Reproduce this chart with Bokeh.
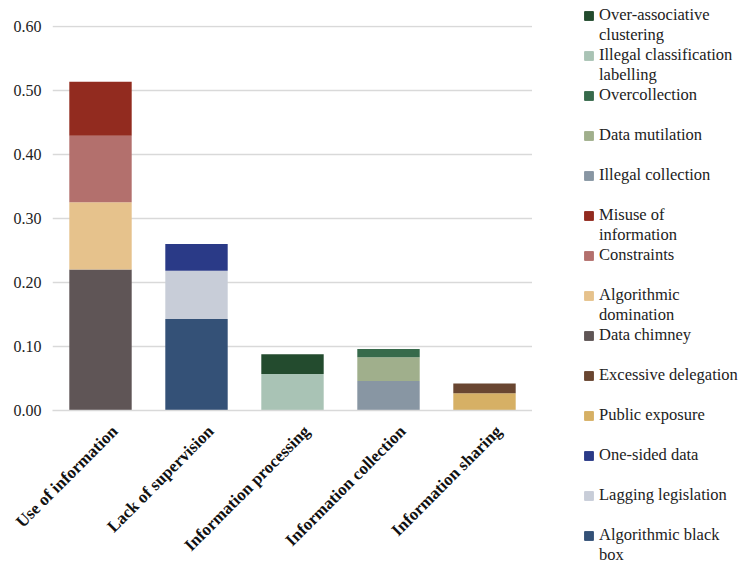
from bokeh.plotting import figure
from bokeh.layouts import row
from bokeh.models import (Range1d, Legend, LegendItem, NumeralTickFormatter,
                          FixedTicker, ColumnDataSource, LinearAxis)
from bokeh.embed import file_html
from bokeh.resources import INLINE
import math

categories = ["Use of information", "Lack of supervision", "Information processing",
              "Information collection", "Information sharing"]

# segments per category, bottom to top
use_of_information = {"Data chimney": 0.220, "Algorithmic domination": 0.105,
                      "Constraints": 0.104, "Misuse of information": 0.084}
lack_of_supervision = {"Algorithmic black box": 0.143, "Lagging legislation": 0.075,
                       "One-sided data": 0.042}
information_processing = {"Illegal classification labelling": 0.057,
                          "Over-associative clustering": 0.031}
information_collection = {"Illegal collection": 0.046, "Data mutilation": 0.037,
                          "Overcollection": 0.013}
information_sharing = {"Public exposure": 0.027, "Excessive delegation": 0.015}

y_ticks = [0, 0.1, 0.2, 0.3, 0.4, 0.5, 0.6]

legend_order = ["Over-associative clustering", "Illegal classification labelling", "Overcollection",
                "Data mutilation", "Illegal collection", "Misuse of information", "Constraints",
                "Algorithmic domination", "Data chimney", "Excessive delegation", "Public exposure",
                "One-sided data", "Lagging legislation", "Algorithmic black box"]

# legend label lines (wrapped as in the reference)
legend_lines = {"Over-associative clustering": ["Over-associative", "clustering"],
                "Illegal classification labelling": ["Illegal classification", "labelling"],
                "Misuse of information": ["Misuse of", "information"],
                "Algorithmic domination": ["Algorithmic", "domination"],
                "Algorithmic black box": ["Algorithmic black", "box"]}

colors = {"Over-associative clustering": "#234B2E", "Illegal classification labelling": "#A9C3B5",
          "Overcollection": "#376A4B", "Data mutilation": "#A0AF8C", "Illegal collection": "#8896A3",
          "Misuse of information": "#922B1F", "Constraints": "#B3706D",
          "Algorithmic domination": "#E6C28C", "Data chimney": "#5F5556",
          "Excessive delegation": "#694631", "Public exposure": "#D6B065",
          "One-sided data": "#2A3A87", "Lagging legislation": "#C8CDD8",
          "Algorithmic black box": "#345177"}

groups = [use_of_information, lack_of_supervision, information_processing,
          information_collection, information_sharing]

stack_order = []
for g in groups:
    stack_order += list(g.keys())

idx = list(range(len(categories)))
data = {"pos": idx, "cat": categories}
for name in stack_order:
    data[name] = [g.get(name, 0.0) for g in groups]
source = ColumnDataSource(data)

# ---------------- main chart ----------------
p = figure(x_range=Range1d(-0.5, len(categories) - 0.5), y_range=(0, 0.601),
           width=532, height=565, output_backend="svg", toolbar_location=None,
           x_axis_location=None,
           min_border_left=52, min_border_top=25, min_border_bottom=155, min_border_right=0)

renderers = p.vbar_stack(stack_order, x="pos", width=0.65, source=source,
                         color=[colors[n] for n in stack_order], line_color=None)

# category label axis (slightly shifted, as in the reference)
label_shift = -0.15
p.extra_x_ranges = {"labels": Range1d(-0.5 + label_shift, len(categories) - 0.5 + label_shift)}
xaxis = LinearAxis(x_range_name="labels",
                   ticker=FixedTicker(ticks=idx),
                   major_label_overrides={i: c for i, c in zip(idx, categories)})
xaxis.axis_line_color = "#D9D9D9"
xaxis.axis_line_width = 1.5
xaxis.major_tick_line_color = None
xaxis.minor_tick_line_color = None
xaxis.major_label_orientation = math.pi / 4
xaxis.major_label_standoff = 12
xaxis.major_label_text_font = "Liberation Serif"
xaxis.major_label_text_font_style = "bold"
xaxis.major_label_text_font_size = "17px"
xaxis.major_label_text_color = "#111111"
p.add_layout(xaxis, "below")

p.outline_line_color = None
p.xgrid.grid_line_color = None
p.ygrid.grid_line_color = "#D9D9D9"
p.ygrid.grid_line_width = 1.5

p.yaxis.ticker = FixedTicker(ticks=y_ticks)
p.yaxis.formatter = NumeralTickFormatter(format="0.00")
p.yaxis.axis_line_color = None
p.yaxis.major_tick_line_color = None
p.yaxis.minor_tick_line_color = None
p.yaxis.major_label_text_font = "Liberation Serif"
p.yaxis.major_label_text_font_size = "16px"
p.yaxis.major_label_text_color = "#222222"

# ---------------- legend panel ----------------
p2 = figure(width=208, height=565, output_backend="svg", toolbar_location=None,
            x_range=Range1d(0, 1), y_range=Range1d(0, 1),
            x_axis_location=None, y_axis_location=None, min_border=0)
p2.outline_line_color = None
p2.grid.visible = False

blank = p2.vbar(x=[-5], top=[0], width=0.5, fill_alpha=0, line_alpha=0)
items = []
for n in legend_order:
    swatch = p2.vbar(x=[-5], top=[0], width=0.5, color=colors[n])
    lines = legend_lines.get(n, [n, " "])
    items.append(LegendItem(label=lines[0], renderers=[swatch]))
    items.append(LegendItem(label=lines[1], renderers=[blank]))

legend = Legend(items=items, location=(51, -155))
legend.label_text_font = "Liberation Serif"
legend.label_text_font_size = "16.5px"
legend.label_text_color = "#222222"
legend.glyph_width = 11
legend.glyph_height = 11
legend.label_standoff = 5
legend.spacing = 0
legend.label_height = 20
legend.padding = 0
legend.margin = 20
legend.border_line_color = None
legend.background_fill_alpha = 0
p2.add_layout(legend, "left")

layout = row(p, p2)
open("out.html", "w").write(file_html(layout, INLINE))
